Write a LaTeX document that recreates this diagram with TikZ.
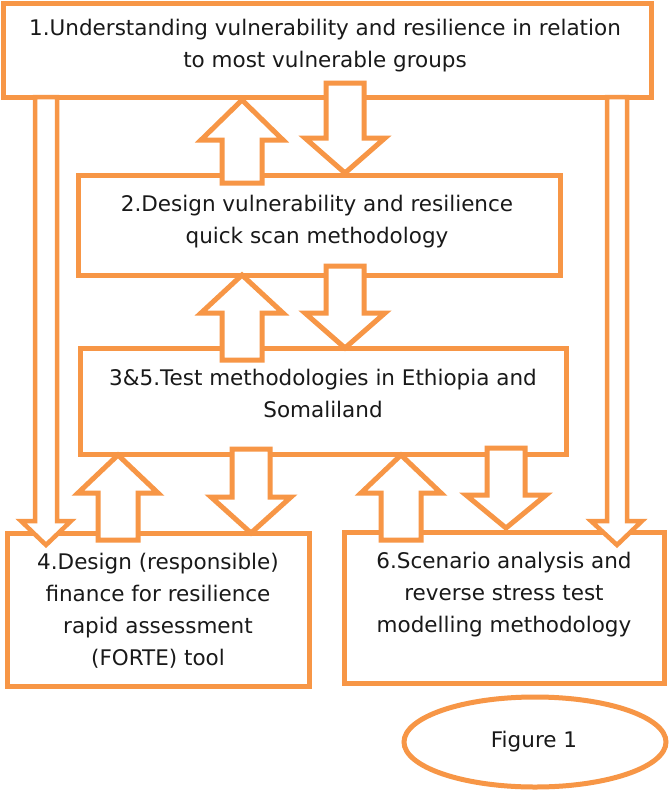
\documentclass[tikz,border=0pt]{standalone}
\usepackage{fontspec}
\setmainfont{DejaVu Sans}
\usetikzlibrary{shapes.geometric}
\definecolor{orng}{HTML}{F79646}
\newcommand\barrow[6]{\draw[arr] ({#1-#5},#2) -- ({#1+#5},#2) -- ({#1+#5},#3) -- ({#1+#6},#3) -- (#1,#4) -- ({#1-#6},#3) -- ({#1-#5},#3) -- cycle;}
\begin{document}
\begin{tikzpicture}[x=1pt,y=-1pt,
  box/.style={draw=orng,line width=5pt,fill=white,rectangle,inner sep=0pt},
  arr/.style={draw=orng,line width=5pt,fill=white,miter limit=10},
  larr/.style={draw=orng,line width=4.5pt,fill=white},
  txt/.style={font=\fontsize{21.5}{32}\selectfont,align=center,inner sep=0pt,text=black!90}]
\useasboundingbox (0,0) rectangle (670,793);
\fill[white] (0,0) rectangle (670,793);
% boxes
\node[box,minimum width=648pt,minimum height=94pt] (b1) at (327,50) {};
\node[box,minimum width=482pt,minimum height=100pt] (b2) at (319,225) {};
\node[box,minimum width=486pt,minimum height=106pt] (b3) at (323,401) {};
\node[box,minimum width=302pt,minimum height=153pt] (b4) at (158,609.5) {};
\node[box,minimum width=320pt,minimum height=151pt] (b6) at (504,607.5) {};
\node[draw=orng,line width=5pt,ellipse,minimum width=262pt,minimum height=90pt,inner sep=0pt] (fig) at (535,742) {};
% texts
\node[txt,anchor=base] (t1) at (325,67) {1.Understanding vulnerability and resilience in relation\\to most vulnerable groups};
\node[txt,anchor=base] (t2) at (317,243) {2.Design vulnerability and resilience\\quick scan methodology};
\node[txt,anchor=base] (t3) at (323,417) {3\&5.Test methodologies in Ethiopia and\\Somaliland};
\node[txt,anchor=base] (t4) at (158,665) {4.Design (responsible)\\finance for resilience\\rapid assessment\\(FORTE) tool};
\node[txt,anchor=base] (t6) at (504,632) {6.Scenario analysis and\\reverse stress test\\modelling methodology};
\node[txt,anchor=base] (t7) at (534,747) {Figure 1};
% arrows
\barrow{242}{183}{140}{100}{20}{41}
\barrow{345}{83}{138}{173}{19}{40}
\barrow{242}{360}{313}{275}{20}{41}
\barrow{345}{266}{313}{348}{19}{40}
\barrow{118}{540}{493}{455}{20}{40}
\barrow{251}{449}{497}{533}{19}{40}
\barrow{401}{540}{493}{455}{20}{40}
\barrow{506}{448}{495}{528}{19}{40}
\draw[larr] (35,97) -- (57,97) -- (57,521) -- (71,521) -- (46,545) -- (21,521) -- (35,521) -- cycle;
\draw[larr] (607,97) -- (627,97) -- (627,521) -- (642,521) -- (617,545) -- (591,521) -- (607,521) -- cycle;
\end{tikzpicture}
\end{document}
